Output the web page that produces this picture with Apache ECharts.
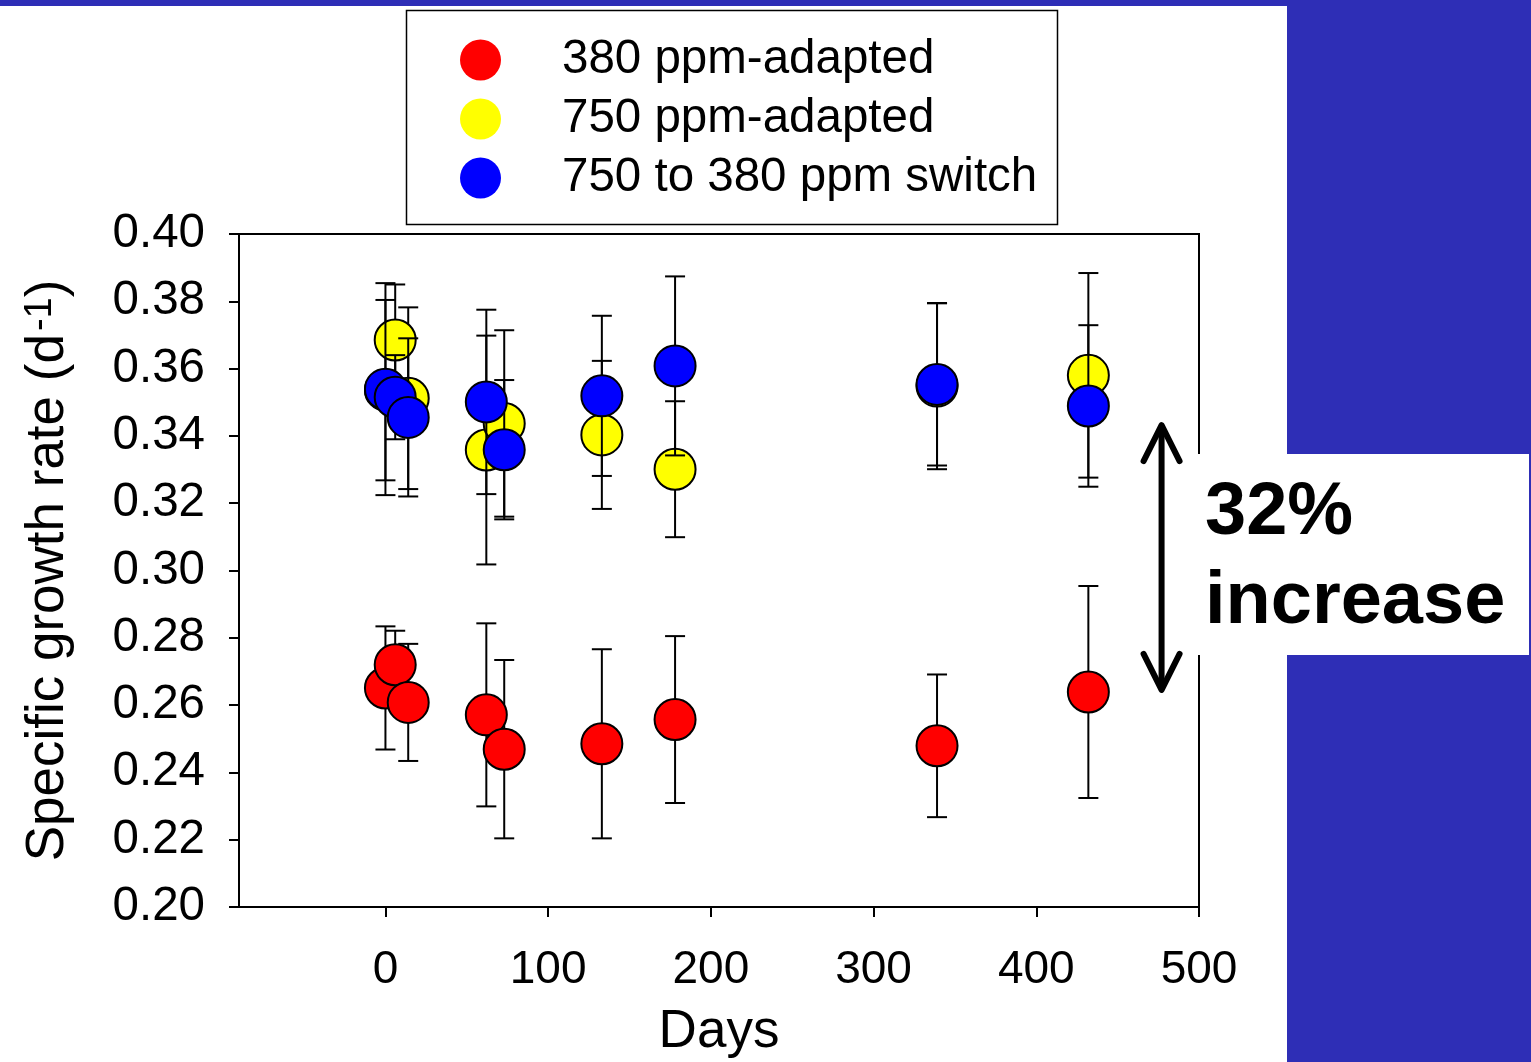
<!DOCTYPE html>
<html>
<head>
<meta charset="utf-8">
<title>Specific growth rate</title>
<script src="https://cdn.jsdelivr.net/npm/echarts@6/dist/echarts.min.js"></script>
<style>
  html, body { margin: 0; padding: 0; background: #fff; }
  #chart { width: 1531px; height: 1062px; }
</style>
</head>
<body>
<div id="chart"></div>
<script>
// Sampling days (shared by all three cultures)
const days = [0, 6, 14, 62, 73, 133, 178, 339, 432];

// Mean specific growth rate (d^-1) and error (±)
const red = [0.2651, 0.2720, 0.2608, 0.2571, 0.2469, 0.2485, 0.2557, 0.2479, 0.2639];
const redErr = [0.0183, 0.0101, 0.0174, 0.0272, 0.0265, 0.0281, 0.0248, 0.0212, 0.0315];

const yellow = [0.3536, 0.3685, 0.3512, 0.3358, 0.3437, 0.3403, 0.3301, 0.3548, 0.3580];
const yellowErr = [0.0268, 0.0165, 0.0270, 0.0340, 0.0277, 0.0220, 0.0202, 0.0247, 0.0304];

const blue = [0.3539, 0.3515, 0.3455, 0.3501, 0.3359, 0.3519, 0.3608, 0.3553, 0.3489];
const blueErr = [0.0315, 0.0125, 0.0235, 0.0274, 0.0207, 0.0238, 0.0266, 0.0241, 0.0240];

const seriesNames = ['380 ppm-adapted', '750 ppm-adapted', '750 to 380 ppm switch'];
const seriesColors = ['#ff0000', '#ffff00', '#0000ff'];

const xTicks = [0, 100, 200, 300, 400, 500];

// Double-headed arrow spanning the gap between the groups: [day, top, bottom]
const arrowSpan = [[477, 0.3432, 0.2645]];
const noteLines = ['32%', 'increase'];

const FONT = 'Arial, "Liberation Sans", Helvetica, sans-serif';
const BLUE_BG = '#2e2eb6';

function pairs(ys, errs) {
  return days.map((d, i) => [d, ys[i], errs[i]]);
}

function renderErrorBar(params, api) {
  const x = api.value(0), y = api.value(1), e = api.value(2);
  const top = api.coord([x, y + e]);
  const bot = api.coord([x, y - e]);
  const hw = 10;
  const style = { stroke: '#000', lineWidth: 2 };
  return {
    type: 'group',
    children: [
      { type: 'line', shape: { x1: top[0], y1: top[1], x2: bot[0], y2: bot[1] }, style },
      { type: 'line', shape: { x1: top[0] - hw, y1: top[1], x2: top[0] + hw, y2: top[1] }, style },
      { type: 'line', shape: { x1: bot[0] - hw, y1: bot[1], x2: bot[0] + hw, y2: bot[1] }, style }
    ]
  };
}

function renderArrow(params, api) {
  const top = api.coord([api.value(0), api.value(1)]);
  const bot = api.coord([api.value(0), api.value(2)]);
  const aw = 18, ah = 36;
  const style = { stroke: '#000', lineWidth: 6, lineCap: 'round', lineJoin: 'round', fill: null };
  return {
    type: 'group',
    children: [
      { type: 'line', shape: { x1: top[0], y1: top[1] + 3, x2: bot[0], y2: bot[1] - 3 }, style },
      { type: 'polyline', shape: { points: [[top[0] - aw, top[1] + ah], [top[0], top[1]], [top[0] + aw, top[1] + ah]] }, style },
      { type: 'polyline', shape: { points: [[bot[0] - aw, bot[1] - ah], [bot[0], bot[1]], [bot[0] + aw, bot[1] - ah]] }, style }
    ]
  };
}

const groups = [
  { name: seriesNames[0], color: seriesColors[0], ys: red, errs: redErr },
  { name: seriesNames[1], color: seriesColors[1], ys: yellow, errs: yellowErr },
  { name: seriesNames[2], color: seriesColors[2], ys: blue, errs: blueErr }
];

const series = [];
groups.forEach((g, i) => {
  series.push({
    type: 'custom',
    name: g.name + ' error',
    renderItem: renderErrorBar,
    data: pairs(g.ys, g.errs),
    encode: { x: 0, y: 1 },
    clip: false,
    z: 10 + i * 2,
    silent: true
  });
  series.push({
    type: 'scatter',
    name: g.name,
    data: days.map((d, k) => [d, g.ys[k]]),
    symbol: 'circle',
    symbolSize: 41,
    itemStyle: { color: g.color, borderColor: '#000', borderWidth: 2, opacity: 1 },
    z: 11 + i * 2,
    silent: true
  });
});

series.push({
  type: 'custom',
  name: 'arrow',
  renderItem: renderArrow,
  data: arrowSpan,
  encode: { x: 0, y: [1, 2] },
  clip: false,
  z: 20,
  silent: true
});

const chart = echarts.init(document.getElementById('chart'), null, { renderer: 'canvas' });

chart.setOption({
  animation: false,
  backgroundColor: '#fff',
  textStyle: { fontFamily: FONT },
  grid: {
    left: 239, right: 332, top: 234, bottom: 155,
    outerBoundsMode: 'none',
    containLabel: false,
    show: true, borderColor: '#000', borderWidth: 2, backgroundColor: 'transparent'
  },
  legend: {
    data: seriesNames,
    orient: 'vertical',
    left: 460,
    top: 36,
    padding: 0,
    itemWidth: 41,
    itemHeight: 41,
    itemGap: 11,
    icon: 'circle',
    itemStyle: { borderWidth: 0 },
    selectedMode: false,
    textStyle: {
      fontFamily: FONT, fontSize: 47.5, color: '#000', lineHeight: 41,
      padding: [0, 0, 0, 56]
    }
  },
  xAxis: {
    type: 'value',
    min: -90,
    max: 500,
    splitLine: { show: false },
    axisLine: { show: true, onZero: false, lineStyle: { color: '#000', width: 2 } },
    axisTick: { show: true, customValues: xTicks, length: 10, lineStyle: { color: '#000', width: 2 } },
    axisLabel: { customValues: xTicks, fontSize: 46, color: '#000', fontFamily: FONT, margin: 40 },
    name: 'Days',
    nameLocation: 'middle',
    nameGap: 99,
    nameTextStyle: { fontSize: 53, color: '#000', fontFamily: FONT }
  },
  yAxis: {
    type: 'value',
    min: 0.2,
    max: 0.4,
    interval: 0.02,
    splitLine: { show: false },
    axisLine: { show: true, onZero: false, lineStyle: { color: '#000', width: 2 } },
    axisTick: { show: true, length: 10, lineStyle: { color: '#000', width: 2 } },
    axisLabel: {
      fontSize: 47.5, color: '#000', fontFamily: FONT, margin: 34,
      formatter: v => v.toFixed(2)
    },
    name: 'Specific growth rate (d{sup|-1})',
    nameLocation: 'middle',
    nameRotate: 90,
    nameGap: 164,
    nameTextStyle: {
      fontSize: 53, color: '#000', fontFamily: FONT, lineHeight: 53,
      rich: {
        sup: { fontSize: 38, fontFamily: FONT, color: '#000', verticalAlign: 'top', lineHeight: 38, padding: [0, 0, 30, 3] }
      }
    }
  },
  graphic: [
    { type: 'rect', z: 50, shape: { x: 0, y: 0, width: 1531, height: 6 }, style: { fill: BLUE_BG } },
    { type: 'rect', z: 50, shape: { x: 1287, y: 0, width: 244, height: 1062 }, style: { fill: BLUE_BG } },
    { type: 'rect', z: 51, shape: { x: 1196, y: 454, width: 333, height: 201 }, style: { fill: '#fff' } },
    { type: 'rect', z: 52, shape: { x: 406.5, y: 10.5, width: 651, height: 214 }, style: { fill: null, stroke: '#000', lineWidth: 1.5 } },
    {
      type: 'text', z: 53, x: 1205, y: 514,
      style: { text: noteLines[0], font: 'bold 74px ' + FONT, fill: '#000', verticalAlign: 'middle' }
    },
    {
      type: 'text', z: 53, x: 1205, y: 603,
      style: { text: noteLines[1], font: 'bold 74px ' + FONT, fill: '#000', verticalAlign: 'middle' }
    }
  ],
  series: series
});
</script>
</body>
</html>
